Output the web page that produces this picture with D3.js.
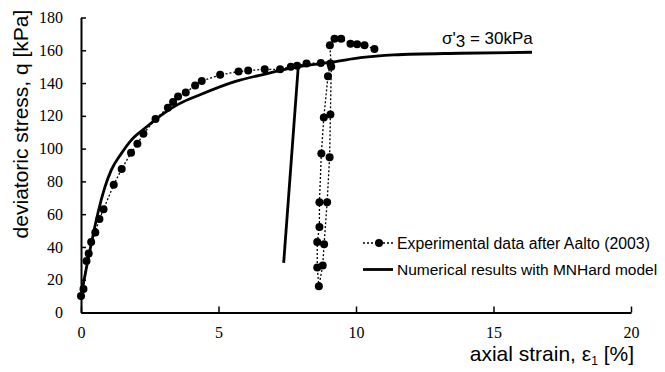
<!DOCTYPE html>
<html>
<head>
<meta charset="utf-8">
<script src="https://cdn.jsdelivr.net/npm/d3@7"></script>
<style>
  body { margin: 0; background: #fff; }
  svg { display: block; }
  .lab { font-family: "Liberation Sans", Arial, sans-serif; fill: #000; }
</style>
</head>
<body>
<div id="chart"></div>
<script>
// experimental data (loading, unload-reload loop, then peak)
const expStrain = [0.0, 0.09, 0.2, 0.28, 0.37, 0.52, 0.67, 0.82, 1.19, 1.48, 1.82, 2.05, 2.27, 2.71, 3.16, 3.35, 3.53, 3.81, 4.15, 4.39,
  5.06, 5.73, 6.08, 6.68, 7.24, 7.63, 7.86, 8.2, 8.72, 9.07,
  8.98, 8.83, 8.74, 8.67, 8.67, 8.59, 8.59, 8.65,
  8.79, 8.84, 8.95, 9.04, 9.07, 9.1,
  9.05, 9.22, 9.46, 9.8, 10.04, 10.31, 10.67];
const expStress = [10.1, 14.4, 31.5, 36, 43, 48.8, 57, 63, 78, 87.6, 97.4, 102.9, 109, 118, 125, 128.5, 131.8, 134.2, 138.5, 141.3,
  145, 147, 147.6, 148.4, 148.4, 150, 150.5, 152, 152.3, 151.9,
  144.2, 119, 97, 67.3, 52.2, 43, 27.5, 16,
  28.7, 41.7, 67.3, 94.8, 120.8, 149.9,
  163, 167, 167, 164, 163.7, 163, 160.8];

// numerical (MNHard) loading curve
const modelStrain = [0, 0.05, 0.16, 0.35, 0.5, 0.62, 0.86, 1.1, 1.47, 1.83, 2.32, 2.92, 3.53, 4.35, 5.56, 6.77, 7.9, 9.19, 10.16, 11.37, 13.8, 16.4];
const modelStress = [8, 14, 24, 40, 52, 61, 76, 86.9, 97.1, 105.2, 112.4, 120.5, 127, 133, 140.7, 145.8, 150, 152.9, 155.5, 157.2, 158.2, 158.8];
// numerical unload/reload branch
const unloadStrain = [7.9, 7.37];
const unloadStress = [150, 30.3];

const xTicks = [0, 5, 10, 15, 20];
const yTicks = [0, 20, 40, 60, 80, 100, 120, 140, 160, 180];

const width = 665, height = 372;
const svg = d3.select("#chart").append("svg").attr("width", width).attr("height", height);

const x = d3.scaleLinear().domain([0, 20]).range([81, 631]);
const y = d3.scaleLinear().domain([0, 180]).range([312.5, 17.5]);

// axes
const xAxis = svg.append("g")
  .attr("transform", `translate(0,${y(0)})`)
  .call(d3.axisBottom(x).tickValues(xTicks).tickSize(-6).tickSizeOuter(0).tickPadding(14));
const yAxis = svg.append("g")
  .attr("transform", `translate(${x(0)},0)`)
  .call(d3.axisLeft(y).tickValues(yTicks).tickSize(-5).tickSizeOuter(0).tickPadding(18));
[xAxis, yAxis].forEach(a => {
  a.attr("font-family", "'Liberation Serif', Tinos, 'Times New Roman', 'DejaVu Serif', serif").attr("font-size", 16);
  a.select(".domain").attr("stroke", "#000").attr("stroke-width", 2);
  a.selectAll(".tick line").attr("stroke", "#000").attr("stroke-width", 1.5);
  a.selectAll(".tick text").attr("fill", "#000");
});

// model curve
const modelPts = modelStrain.map((d, i) => [d, modelStress[i]]);
svg.append("path")
  .datum(modelPts)
  .attr("fill", "none").attr("stroke", "#000").attr("stroke-width", 2.8)
  .attr("d", d3.line().x(d => x(d[0])).y(d => y(d[1])).curve(d3.curveMonotoneX));
const unloadPts = unloadStrain.map((d, i) => [d, unloadStress[i]]);
svg.append("path")
  .datum(unloadPts)
  .attr("fill", "none").attr("stroke", "#000").attr("stroke-width", 2.8)
  .attr("d", d3.line().x(d => x(d[0])).y(d => y(d[1])));

// experimental
const expPts = expStrain.map((d, i) => [d, expStress[i]]);
svg.append("path")
  .datum(expPts)
  .attr("fill", "none").attr("stroke", "#000").attr("stroke-width", 1.3)
  .attr("stroke-dasharray", "2,2")
  .attr("d", d3.line().x(d => x(d[0])).y(d => y(d[1])));
svg.append("g").selectAll("circle")
  .data(expPts)
  .enter()
  .append("circle")
  .attr("cx", d => x(d[0])).attr("cy", d => y(d[1])).attr("r", 4)
  .attr("fill", "#000");

// axis titles
svg.append("text").attr("class", "lab")
  .attr("transform", "translate(28,124) rotate(-90)")
  .attr("text-anchor", "middle").attr("font-size", 21)
  .text("deviatoric stress, q [kPa]");
const xt = svg.append("text").attr("class", "lab")
  .attr("x", 634).attr("y", 361)
  .attr("text-anchor", "end").attr("font-size", 21);
xt.append("tspan").text("axial strain, ε");
xt.append("tspan").attr("font-size", 12).attr("dy", 4).text("1");
xt.append("tspan").attr("dy", -4).text(" [%]");

// annotation
const ann = svg.append("text").attr("class", "lab")
  .attr("x", 442).attr("y", 44).attr("font-size", 17);
ann.append("tspan").text("σ'");
ann.append("tspan").attr("dy", 3).text("3");
ann.append("tspan").attr("dy", -3).text(" = 30kPa");

// legend
const legend = svg.append("g");
legend.append("line").attr("x1", 363).attr("x2", 395).attr("y1", 243).attr("y2", 243)
  .attr("stroke", "#000").attr("stroke-width", 1.3).attr("stroke-dasharray", "2,2");
legend.append("circle").attr("cx", 379).attr("cy", 243).attr("r", 4).attr("fill", "#000");
legend.append("text").attr("class", "lab").attr("x", 397).attr("y", 243).attr("dy", "0.35em")
  .attr("font-size", 15.8).text("Experimental data after Aalto (2003)");
legend.append("line").attr("x1", 363).attr("x2", 393).attr("y1", 269.5).attr("y2", 269.5)
  .attr("stroke", "#000").attr("stroke-width", 2.8);
legend.append("text").attr("class", "lab").attr("x", 397).attr("y", 269.5).attr("dy", "0.35em")
  .attr("font-size", 15.5).text("Numerical results with MNHard model");
</script>
</body>
</html>
